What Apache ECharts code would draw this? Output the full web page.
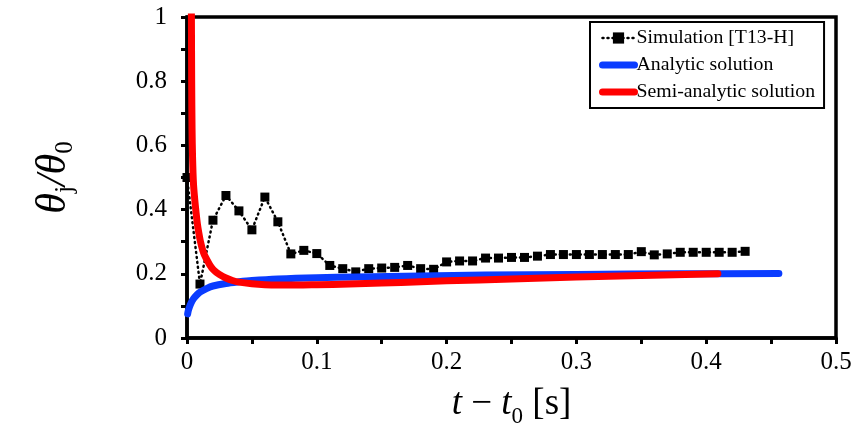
<!DOCTYPE html>
<html>
<head>
<meta charset="utf-8">
<script src="https://cdn.jsdelivr.net/npm/echarts@6/dist/echarts.min.js"></script>
<style>
html,body{margin:0;padding:0;background:#fff;}
#chart{width:865px;height:433px;}
</style>
</head>
<body>
<div id="chart"></div>
<script>
// ---- data ----
const legendNames = ['Simulation [T13-H]', 'Analytic solution', 'Semi-analytic solution'];

const simT = [0.00,0.01,0.02,0.03,0.04,0.05,0.06,0.07,0.08,0.09,0.10,0.11,0.12,0.13,0.14,0.15,0.16,0.17,0.18,0.19,0.20,0.21,0.22,0.23,0.24,0.25,0.26,0.27,0.28,0.29,0.30,0.31,0.32,0.33,0.34,0.35,0.36,0.37,0.38,0.39,0.40,0.41,0.42,0.43];
const simV = [0.50,0.168,0.367,0.444,0.396,0.337,0.439,0.362,0.262,0.273,0.263,0.226,0.216,0.206,0.216,0.218,0.220,0.226,0.216,0.214,0.237,0.240,0.240,0.249,0.249,0.251,0.251,0.255,0.260,0.260,0.260,0.260,0.260,0.260,0.260,0.269,0.259,0.262,0.267,0.267,0.267,0.267,0.267,0.270];

const anaT = [0.0005,0.001,0.002,0.003,0.005,0.0075,0.01,0.015,0.02,0.03,0.04,0.05,0.07,0.10,0.13,0.18,0.23,0.30,0.38,0.456];
const anaV = [0.075,0.085,0.098,0.108,0.122,0.134,0.143,0.154,0.162,0.170,0.175,0.179,0.184,0.188,0.190,0.193,0.196,0.198,0.200,0.201];

const semiT = [0.0033,0.0034,0.0036,0.0039,0.0043,0.005,0.006,0.007,0.008,0.009,0.0105,0.012,0.0135,0.015,0.0175,0.02,0.0225,0.025,0.03,0.035,0.04,0.05,0.06,0.07,0.085,0.10,0.125,0.15,0.18,0.20,0.25,0.30,0.35,0.409];
const semiV = [1.10,1.00,0.80,0.65,0.56,0.48,0.43,0.39,0.355,0.33,0.298,0.275,0.258,0.246,0.228,0.214,0.205,0.198,0.187,0.179,0.174,0.169,0.166,0.165,0.165,0.166,0.168,0.171,0.175,0.178,0.184,0.190,0.195,0.200];

const xTickLabels = ['0','','0.1','','0.2','','0.3','','0.4','','0.5'];
const yTickLabels = ['0','','0.2','','0.4','','0.6','','0.8','','1'];

const zip = (a, b) => a.map((v, i) => [v, b[i]]);

const serif = 'Liberation Serif';
const blue = '#0a3cff';
const red = '#ff0000';
const chart = echarts.init(document.getElementById('chart'), null, {renderer: 'canvas'});

chart.setOption({
  animation: false,
  backgroundColor: '#fff',
  grid: {
    left: 187, right: 29, top: 17, bottom: 93,
    show: true, borderColor: '#000', borderWidth: 3.5, backgroundColor: 'transparent'
  },
  legend: {
    orient: 'vertical',
    left: 590, top: 22,
    padding: [6, 9, 6, 9],
    backgroundColor: '#fff',
    borderColor: '#000', borderWidth: 2,
    itemWidth: 32, itemHeight: 14, itemGap: 7,
    textStyle: {fontFamily: serif, fontSize: 19.8, color: '#000', lineHeight: 20, padding: [0,0,0,-3]},
    data: [
      {name: legendNames[0], itemStyle: {color: '#000'}, lineStyle: {color: '#000', width: 2.5, type: [1, 4], cap: 'round'}},
      {name: legendNames[1], itemStyle: {opacity: 0}, lineStyle: {color: blue, width: 7, cap: 'round'}},
      {name: legendNames[2], itemStyle: {opacity: 0}, lineStyle: {color: red, width: 7, cap: 'round'}}
    ]
  },
  xAxis: {
    type: 'value', min: 0, max: 0.5, interval: 0.05,
    name: '{it|t}{op|\u00a0−\u00a0}{it|t}{sub|0}{op|\u00a0[s]}',
    nameLocation: 'middle', nameGap: 48,
    nameTextStyle: {
      rich: {
        it: {fontFamily: serif, fontStyle: 'italic', fontSize: 37, lineHeight: 37, verticalAlign: 'top', color: '#000'},
        op: {fontFamily: serif, fontSize: 37, lineHeight: 37, verticalAlign: 'top', color: '#000'},
        sub: {fontFamily: serif, fontSize: 23, lineHeight: 23, padding: [19,0,0,0], verticalAlign: 'top', color: '#000'}
      }
    },
    axisLine: {show: true, lineStyle: {color: '#000', width: 3.5}},
    axisTick: {show: true, inside: false, length: 6, lineStyle: {color: '#000', width: 3}},
    splitLine: {show: false},
    axisLabel: {
      fontFamily: serif, fontSize: 25, color: '#000', margin: 12,
      formatter: (v, i) => xTickLabels[i]
    }
  },
  yAxis: {
    type: 'value', min: 0, max: 1, interval: 0.1,
    name: '{it|θ}{sub|j}{it|/θ}{sub|0}',
    nameLocation: 'middle', nameGap: 112, nameRotate: 90,
    nameTextStyle: {
      rich: {
        it: {fontFamily: serif, fontStyle: 'italic', fontSize: 42, lineHeight: 42, verticalAlign: 'top', color: '#000'},
        sub: {fontFamily: serif, fontSize: 25, lineHeight: 25, padding: [20,0,0,0], verticalAlign: 'top', color: '#000'}
      }
    },
    axisLine: {show: true, lineStyle: {color: '#000', width: 3.5}},
    axisTick: {show: true, inside: false, length: 6, lineStyle: {color: '#000', width: 3}},
    splitLine: {show: false},
    axisLabel: {
      fontFamily: serif, fontSize: 25, color: '#000', margin: 20,
      formatter: (v, i) => yTickLabels[i]
    }
  },
  series: [
    {
      name: legendNames[0], type: 'line', data: zip(simT, simV),
      symbol: 'rect', symbolSize: 9, showSymbol: true,
      itemStyle: {color: '#000'},
      lineStyle: {color: '#000', width: 2.5, type: [1, 4], cap: 'round'},
      clip: true, z: 2
    },
    {
      name: legendNames[1], type: 'line', data: zip(anaT, anaV),
      symbol: 'none', smooth: 0.3,
      itemStyle: {color: blue},
      lineStyle: {color: blue, width: 7, cap: 'round', join: 'round'},
      clip: true, z: 3
    },
    {
      name: legendNames[2], type: 'line', data: zip(semiT, semiV),
      symbol: 'none', smooth: 0.3,
      itemStyle: {color: red},
      lineStyle: {color: red, width: 7, cap: 'round', join: 'round'},
      clip: true, z: 4
    }
  ]
});
</script>
</body>
</html>
